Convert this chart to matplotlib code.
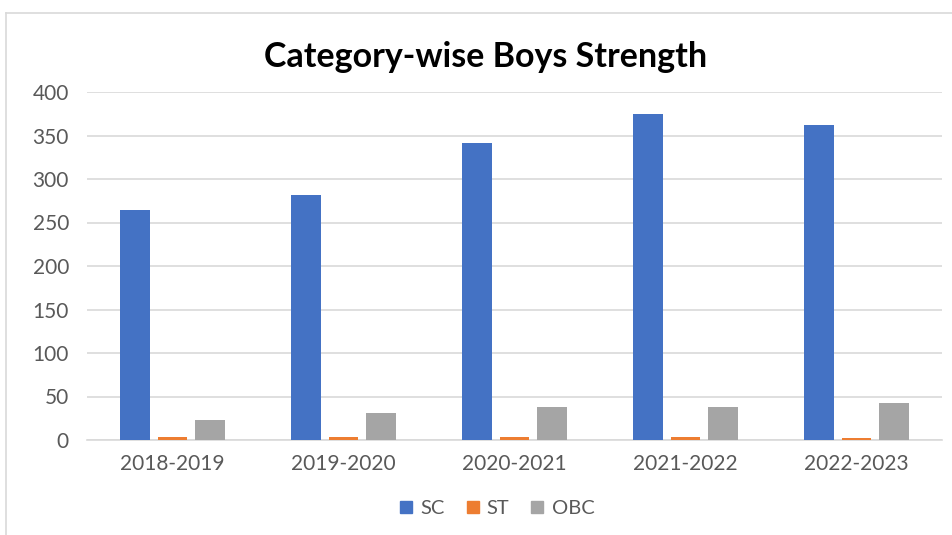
import numpy as np
import matplotlib.pyplot as plt
from matplotlib.lines import Line2D

years = ["2018-2019", "2019-2020", "2020-2021", "2021-2022", "2022-2023"]
sc = [264, 282, 341, 375, 362]
st = [3, 3, 3, 4, 2]
obc = [23, 31, 38, 38, 42]

series = [("SC", sc, "#4472C4"), ("ST", st, "#ED7D31"), ("OBC", obc, "#A5A5A5")]

plt.rcParams["font.family"] = ["Lato", "DejaVu Sans"]

fig = plt.figure(figsize=(9.53, 5.35), dpi=100)
ax = fig.add_axes([87 / 953, 1 - 440 / 535, 855 / 953, 348 / 535])

x = np.arange(len(years))
width = 0.175
step = 0.222
for i, (name, vals, color) in enumerate(series):
    ax.bar(x + (i - 1) * step, vals, width, color=color, label=name, zorder=3)

ax.set_xlim(-0.5, len(years) - 0.5)
ax.set_ylim(0, 400)
ax.set_yticks(range(0, 401, 50))
ax.set_xticks(x)
ax.set_xticklabels(years)
ax.grid(axis="y", color="#D9D9D9", linewidth=1.2, zorder=0)
for s in ["top", "right", "left"]:
    ax.spines[s].set_visible(False)
ax.spines["bottom"].set_color("#D9D9D9")
ax.spines["bottom"].set_linewidth(1.2)
ax.tick_params(axis="both", length=0, labelsize=15, labelcolor="#595959")
ax.tick_params(axis="y", pad=13)
ax.tick_params(axis="x", pad=10)

fig.text(486 / 953, 1 - 57 / 535, "Category-wise Boys Strength", ha="center", va="center",
         fontsize=24.5, fontweight="bold", color="black")

handles = [Line2D([], [], marker="s", linestyle="none", markersize=9,
                  color=c, label=n) for n, _, c in series]
fig.legend(handles=handles, loc="center", bbox_to_anchor=(490 / 953, 1 - 508 / 535),
           ncol=3, frameon=False, fontsize=14.5, handletextpad=-0.3,
           columnspacing=0.4, labelcolor="#595959")

# chart frame (left and top edges)
fig.add_artist(Line2D([6 / 953, 6 / 953], [0, 1 - 13 / 535], color="#D9D9D9", lw=1.2))
fig.add_artist(Line2D([6 / 953, 1], [1 - 13 / 535, 1 - 13 / 535], color="#D9D9D9", lw=1.2))

fig.savefig("out.png", dpi=100)
